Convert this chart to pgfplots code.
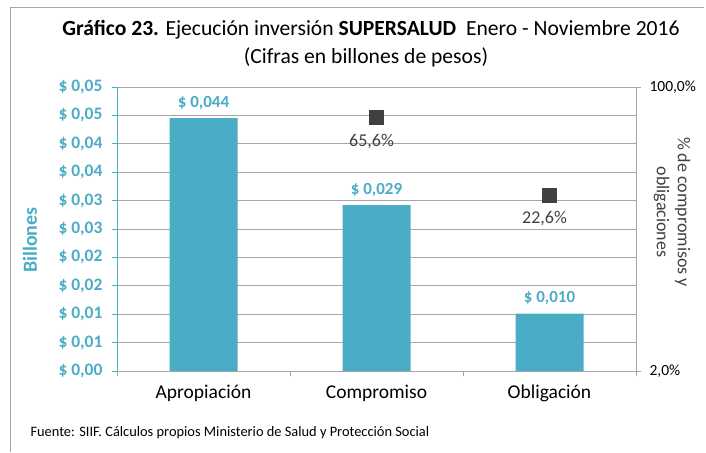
\documentclass[border=0pt]{standalone}
\usepackage{pgfplots}
\pgfplotsset{compat=1.18}
\usepackage{fontspec}
\setmainfont{Carlito}
\definecolor{barc}{HTML}{4BACC6}
\definecolor{mk}{HTML}{404040}
\definecolor{gridc}{HTML}{A6A6A6}
\newcommand{\fs}[1]{\fontsize{#1}{#1}\selectfont}
\begin{document}
\begin{tikzpicture}[x=1pt,y=1pt]
\useasboundingbox (0,0) rectangle (706,-452);
\draw[gridc, line width=1pt] (10,-452) -- (10,-8) -- (704,-8);
\node[font=\fs{21.6}] at (371,-30) {\textbf{Gráfico 23.} Ejecución inversión \textbf{SUPERSALUD}\ \ Enero - Noviembre 2016};
\node[font=\fs{21.6}] at (366,-57) {(Cifras en billones de pesos)};
\node[font=\fs{14.4}, anchor=west] at (27,-433) {Fuente: SIIF. Cálculos propios Ministerio de Salud y Protección Social};
\node[font=\bfseries\fs{20}, text=barc, rotate=90] at (30,-240) {Billones};
\node[font=\fs{18}, text=mk, rotate=-90, align=center] at (672,-212) {\% de compromisos y\\[3pt]obligaciones};
\begin{axis}[
  at={(117pt,-371pt)}, anchor=south west, scale only axis,
  width=519pt, height=284pt,
  xmin=-0.5, xmax=2.5, ymin=0, ymax=0.05,
  scaled y ticks=false,
  axis x line*=bottom, axis y line*=left,
  x axis line style={gridc, line width=1pt, -},
  y axis line style={barc, line width=1pt, -},
  ytick={0,0.005,0.01,0.015,0.02,0.025,0.03,0.035,0.04,0.045,0.05},
  yticklabels={{\$ 0,00},{\$ 0,01},{\$ 0,01},{\$ 0,02},{\$ 0,02},{\$ 0,03},{\$ 0,03},{\$ 0,04},{\$ 0,04},{\$ 0,05},{\$ 0,05}},
  yticklabel style={font=\bfseries\fs{17.5}, text=barc, xshift=-6pt},
  ytick style={barc, line width=1pt},
  tick align=outside, major tick length=5pt,
  ymajorgrids, grid style={gridc, line width=1pt},
  xtick={0,1,2},
  xticklabels={Apropiación, Compromiso, Obligación},
  xticklabel style={font=\fs{19.5}, text=black, text height=13pt, text depth=4pt, yshift=-6pt},
  xtick style={draw=none},
  extra x ticks={-0.5,0.5,1.5,2.5},
  extra x tick labels={},
  extra x tick style={grid=none, xtick style={draw=gridc, line width=1pt}},
  clip=false,
]
\addplot[ybar, bar width=68pt, fill=barc, draw=none,
  nodes near coords, point meta=explicit symbolic,
  every node near coord/.append style={font=\bfseries\fs{17}, text=barc, yshift=5pt}]
  coordinates {(0,0.0445) [\$ 0,044] (1,0.0292) [\$ 0,029] (2,0.0101) [\$ 0,010]};
\end{axis}
\begin{axis}[
  at={(117pt,-371pt)}, anchor=south west, scale only axis,
  width=519pt, height=284pt,
  xmin=-0.5, xmax=2.5, ymode=log, ymin=2, ymax=100,
  axis y line*=right, axis x line=none,
  y axis line style={gridc, line width=1pt, -},
  ytick={2,100}, yticklabels={{2,0\%},{100,0\%}},
  minor ytick={},
  yticklabel style={font=\fs{15.5}, text=black, xshift=5pt},
  ytick style={gridc, line width=1pt},
  tick align=outside, major tick length=5pt,
  clip=false,
]
\addplot[only marks, mark=square*, mark size=7pt, mk,
  nodes near coords, point meta=explicit symbolic,
  every node near coord/.append style={anchor=center, yshift=-24pt, xshift=-5pt, font=\fs{18}, text=mk}]
  coordinates {(1,65.6) [65,6\%] (2,22.6) [22,6\%]};
\end{axis}
\end{tikzpicture}
\end{document}
